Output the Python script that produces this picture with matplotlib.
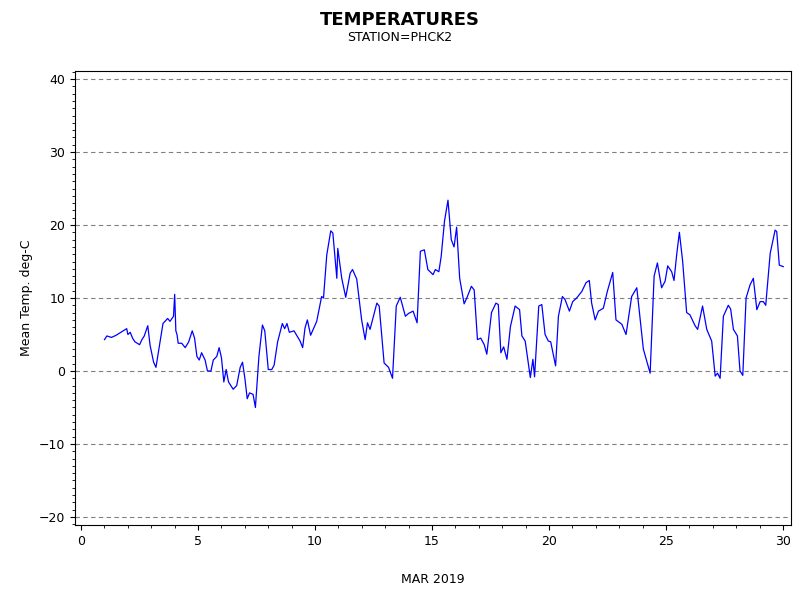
import matplotlib
matplotlib.use("Agg")
import matplotlib.pyplot as plt
from matplotlib.ticker import MultipleLocator

# day of March 2019 (fractional) and mean temperature
days = [1.0, 1.1, 1.3, 1.5, 1.8, 1.95, 2.0, 2.1, 2.2, 2.3, 2.5, 2.6, 2.7, 2.85, 2.95,
        3.1, 3.2, 3.35, 3.5, 3.7, 3.8, 3.95, 4.0, 4.05, 4.1, 4.15, 4.3, 4.45, 4.6, 4.75,
        4.85, 4.95, 5.05, 5.15, 5.3, 5.4, 5.55, 5.65, 5.8, 5.9, 6.0, 6.1, 6.2, 6.3, 6.5,
        6.65, 6.8, 6.9, 7.0, 7.1, 7.2, 7.35, 7.45, 7.6, 7.75, 7.85, 8.0, 8.15, 8.25, 8.4,
        8.6, 8.7, 8.8, 8.9, 9.1, 9.36, 9.47, 9.57, 9.67, 9.81, 10.07, 10.28, 10.36, 10.5,
        10.67, 10.76, 10.93, 10.97, 11.14, 11.31, 11.5, 11.6, 11.78, 11.99, 12.14, 12.24,
        12.35, 12.64, 12.74, 12.95, 13.14, 13.31, 13.47, 13.64, 13.86, 14.0, 14.19, 14.36,
        14.5, 14.67, 14.82, 15.04, 15.14, 15.29, 15.39, 15.53, 15.68, 15.82, 15.94, 16.05,
        16.18, 16.37, 16.51, 16.68, 16.8, 16.94, 17.08, 17.23, 17.34, 17.54, 17.73, 17.83,
        17.94, 18.06, 18.2, 18.35, 18.55, 18.74, 18.84, 18.98, 19.2, 19.31, 19.38, 19.56,
        19.69, 19.83, 19.97, 20.07, 20.28, 20.4, 20.57, 20.68, 20.87, 21.01, 21.18, 21.4,
        21.58, 21.72, 21.82, 21.97, 22.11, 22.32, 22.49, 22.72, 22.86, 23.11, 23.29, 23.53,
        23.75, 24.03, 24.32, 24.49, 24.63, 24.81, 24.96, 25.07, 25.24, 25.34, 25.46, 25.57,
        25.71, 25.88, 26.02, 26.24, 26.35, 26.56, 26.74, 26.95, 27.1, 27.2, 27.31, 27.45,
        27.66, 27.76, 27.88, 28.05, 28.16, 28.28, 28.42, 28.59, 28.73, 28.88, 29.02, 29.16,
        29.26, 29.45, 29.66, 29.73, 29.84, 30.01]
temps = [4.3, 4.8, 4.6, 4.9, 5.5, 5.8, 5.0, 5.3, 4.5, 4.0, 3.6, 4.3, 4.8, 6.2, 3.5,
         1.2, 0.5, 3.5, 6.5, 7.2, 6.8, 7.5, 10.5, 5.5, 5.0, 3.8, 3.8, 3.2, 4.0, 5.5,
         4.5, 2.0, 1.5, 2.5, 1.5, 0.0, 0.0, 1.5, 2.0, 3.2, 1.8, -1.5, 0.2, -1.5, -2.5,
         -2.0, 0.5, 1.2, -1.0, -3.8, -3.0, -3.2, -5.0, 2.0, 6.3, 5.5, 0.2, 0.2, 0.8, 4.0,
         6.5, 5.8, 6.5, 5.3, 5.5, 4.1, 3.2, 5.9, 7.0, 4.9, 6.8, 10.2, 10.0, 15.9,
         19.2, 18.9, 12.7, 16.8, 12.7, 10.1, 13.4, 13.9, 12.6, 7.0, 4.3, 6.6,
         5.7, 9.3, 8.9, 1.1, 0.5, -1.0, 8.9, 10.1, 7.5, 7.9, 8.2, 6.6,
         16.4, 16.6, 13.9, 13.2, 13.9, 13.6, 15.7, 20.5, 23.4, 18.0, 17.0, 19.7,
         12.7, 9.2, 10.2, 11.6, 11.1, 4.3, 4.5, 3.6, 2.3, 8.0, 9.3, 9.1,
         2.5, 3.3, 1.6, 6.1, 8.9, 8.4, 4.8, 4.1, -0.9, 1.6, -0.8, 8.9,
         9.1, 5.0, 4.1, 4.0, 0.7, 7.5, 10.2, 9.8, 8.2, 9.5, 10.0, 10.9,
         12.1, 12.4, 9.3, 7.0, 8.2, 8.6, 10.9, 13.5, 7.0, 6.4, 5.0, 10.2,
         11.4, 3.0, -0.3, 13.0, 14.8, 11.4, 12.3, 14.4, 13.6, 12.4, 16.1, 19.0,
         15.0, 8.0, 7.7, 6.2, 5.7, 8.9, 5.7, 4.1, -0.7, -0.3, -1.0, 7.5,
         9.0, 8.5, 5.7, 4.8, 0.0, -0.6, 10.0, 11.8, 12.7, 8.4, 9.5, 9.5,
         9.0, 16.1, 19.3, 19.1, 14.5, 14.3]

fig = plt.figure(figsize=(8, 6), dpi=100)
ax = fig.add_axes([75 / 800, 1 - 525 / 600, 716 / 800, 454 / 600])
ax.plot(days, temps, color="blue", linewidth=0.9)

ax.set_xlim(-0.26, 30.34)
ax.set_ylim(-21.1, 41.1)
ax.set_xticks([0, 5, 10, 15, 20, 25, 30])
ax.set_yticks([-20, -10, 0, 10, 20, 30, 40])
ax.xaxis.set_minor_locator(MultipleLocator(1))
ax.yaxis.set_minor_locator(MultipleLocator(1))
ax.tick_params(which="both", direction="out", labelsize=9)
ax.tick_params(which="minor", length=2)
for y in [-20, -10, 0, 10, 20, 30, 40]:
    ax.axhline(y, color="gray", linestyle=(0, (4, 3)), linewidth=0.8, zorder=0)

ax.set_ylabel("Mean Temp. deg-C", fontsize=9)
ax.set_xlabel("MAR 2019", fontsize=9, labelpad=18)
fig.text(0.5, 0.982, "TEMPERATURES", ha="center", va="top", fontsize=13, fontweight="bold")
fig.text(0.5, 0.948, "STATION=PHCK2", ha="center", va="top", fontsize=9)

fig.savefig("out.png", dpi=100)
